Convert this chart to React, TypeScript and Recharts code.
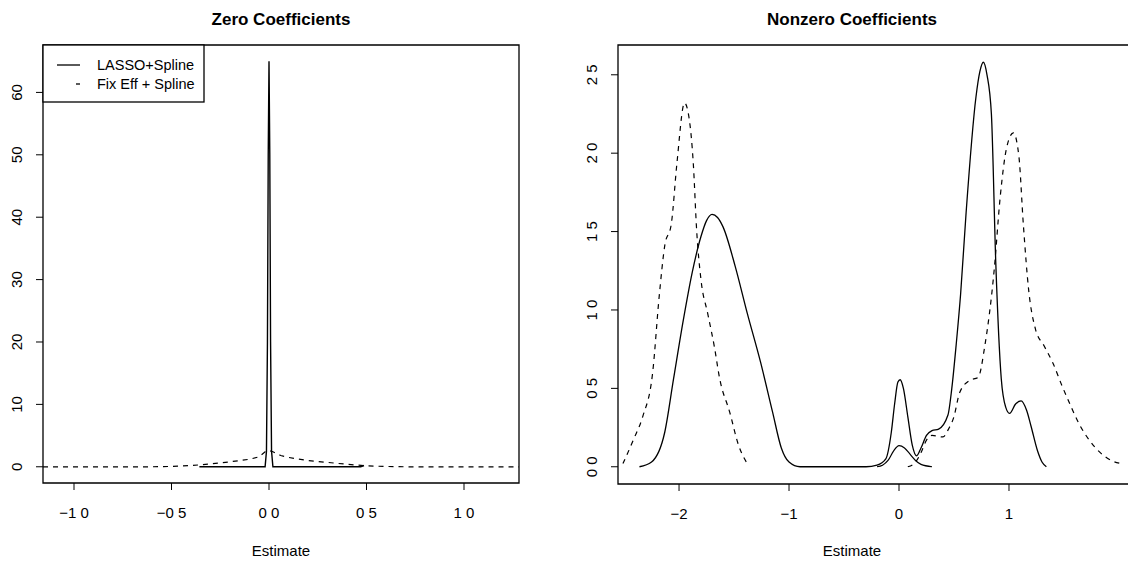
import React from "react";
import { LineChart, Line, XAxis, YAxis, ReferenceArea } from "recharts";

// ---- data (estimate, density) ----
const zeroLasso: [number, number][] = [
  [-0.357, 0], [-0.02, 0], [-0.013, 2.5], [-0.008, 20], [-0.004, 50], [0, 65],
  [0.004, 50], [0.008, 20], [0.013, 2.5], [0.02, 0], [0.47, 0], [0.487, 0.2],
];
const zeroFixEff: [number, number][] = [
  [-1.159, 0], [-0.6, 0], [-0.5, 0.05], [-0.4, 0.2], [-0.3, 0.45], [-0.2, 0.8],
  [-0.1, 1.2], [-0.05, 1.6], [-0.02, 2.4], [0, 2.6], [0.02, 2.4], [0.06, 1.8],
  [0.1, 1.5], [0.2, 1.0], [0.3, 0.7], [0.4, 0.4], [0.5, 0.15], [0.6, 0.05],
  [0.7, 0], [1.282, 0],
];

const nonzeroLasso: [number, number][] = [
  [-2.36, 0], [-2.25, 0.03], [-2.13, 0.22], [-2.05, 0.56], [-1.96, 0.94],
  [-1.88, 1.24], [-1.8, 1.47], [-1.75, 1.57], [-1.7, 1.61], [-1.65, 1.59],
  [-1.6, 1.53], [-1.49, 1.28], [-1.38, 0.98], [-1.26, 0.67], [-1.15, 0.35],
  [-1.07, 0.12], [-1.0, 0.03], [-0.9, 0], [-0.3, 0], [-0.2, 0.01],
  [-0.12, 0.05], [-0.07, 0.22], [-0.04, 0.4], [-0.01, 0.54], [0.01, 0.555],
  [0.04, 0.5], [0.08, 0.32], [0.12, 0.14], [0.16, 0.07], [0.2, 0.12],
  [0.25, 0.2], [0.3, 0.23], [0.36, 0.24], [0.445, 0.33], [0.48, 0.5],
  [0.52, 0.78], [0.56, 1.1], [0.61, 1.62], [0.7, 2.36], [0.735, 2.52],
  [0.767, 2.58], [0.8, 2.5], [0.84, 2.25], [0.88, 1.3], [0.93, 0.56],
  [0.97, 0.38], [1.005, 0.34], [1.06, 0.4], [1.11, 0.42], [1.16, 0.36],
  [1.2, 0.26], [1.26, 0.1], [1.3, 0.03], [1.34, 0],
];
const nonzeroBump: [number, number][] = [
  [-0.2, 0], [-0.15, 0.01], [-0.1, 0.04], [-0.05, 0.1], [0, 0.135],
  [0.05, 0.12], [0.1, 0.08], [0.15, 0.04], [0.2, 0.015], [0.3, 0],
];
const nonzeroFixEff: [number, number][] = [
  [-2.51, 0.02], [-2.41, 0.18], [-2.33, 0.32], [-2.24, 0.6], [-2.18, 1.09],
  [-2.13, 1.41], [-2.07, 1.55], [-2.02, 1.93], [-1.95, 2.32], [-1.91, 2.23],
  [-1.87, 1.93], [-1.84, 1.51], [-1.8, 1.19], [-1.74, 0.98], [-1.68, 0.77],
  [-1.63, 0.56], [-1.54, 0.35], [-1.46, 0.14], [-1.38, 0.02],
];
const nonzeroFixEffRight: [number, number][] = [
  [0.08, 0], [0.15, 0.03], [0.2, 0.09], [0.25, 0.17], [0.3, 0.2], [0.4, 0.19],
  [0.45, 0.24], [0.5, 0.32], [0.55, 0.47], [0.64, 0.55], [0.72, 0.57],
  [0.78, 0.77], [0.866, 1.26], [0.92, 1.72], [0.98, 2.04], [1.04, 2.13],
  [1.09, 1.98], [1.13, 1.55], [1.18, 1.12], [1.24, 0.88], [1.32, 0.77],
  [1.4, 0.66], [1.48, 0.52], [1.56, 0.39], [1.64, 0.27], [1.73, 0.17],
  [1.83, 0.09], [1.93, 0.04], [2.02, 0.02],
];

// ---- ticks ----
const zeroXTicks = [-1, -0.5, 0, 0.5, 1];
const zeroXLabels = ["\u22121 0", "\u22120 5", "0 0", "0 5", "1 0"];
const zeroYTicks = [0, 10, 20, 30, 40, 50, 60];
const zeroYLabels = ["0", "10", "20", "30", "40", "50", "60"];
const nonzeroXTicks = [-2, -1, 0, 1];
const nonzeroXLabels = ["\u22122", "\u22121", "0", "1"];
const nonzeroYTicks = [0, 0.5, 1, 1.5, 2, 2.5];
const nonzeroYLabels = ["0 0", "0 5", "1 0", "1 5", "2 0", "2 5"];

const toPts = (arr: [number, number][]) => arr.map(([x, y]) => ({ x, y }));

const FONT = '"Liberation Sans", Arial, Helvetica, sans-serif';

const makeXTick = (ticks: number[], labels: string[]) => (props: any) => {
  const { x, y, payload } = props;
  const i = ticks.indexOf(payload.value);
  return (
    <text x={x} y={y + 28} textAnchor="middle" fontSize={15} fill="#000" fontFamily={FONT}>
      {labels[i]}
    </text>
  );
};

const makeYTick = (ticks: number[], labels: string[]) => (props: any) => {
  const { x, y, payload } = props;
  const i = ticks.indexOf(payload.value);
  const tx = x - 14;
  return (
    <text
      x={tx}
      y={y}
      transform={`rotate(-90 ${tx} ${y})`}
      textAnchor="middle"
      fontSize={15}
      fill="#000"
      fontFamily={FONT}
    >
      {labels[i]}
    </text>
  );
};

const textStyle = (cx: number, cy: number, size: number, bold: boolean): React.CSSProperties => ({
  position: "absolute",
  left: cx - 150,
  top: cy - 10,
  width: 300,
  lineHeight: "20px",
  textAlign: "center",
  fontSize: size,
  fontWeight: bold ? "bold" : "normal",
  fontFamily: FONT,
  color: "#000",
});

export default function App() {
  const zx: [number, number] = [-1.159, 1.282];
  const zy: [number, number] = [-2.6, 67.6];
  const nx: [number, number] = [-2.555, 2.273];
  const ny: [number, number] = [-0.11, 2.69];

  return (
    <div
      style={{
        position: "absolute",
        left: 0,
        top: 0,
        width: 1128,
        height: 561,
        overflow: "hidden",
        background: "#fff",
      }}
    >
      {/* left panel */}
      <div style={{ position: "absolute", left: 0, top: 0 }}>
        <LineChart width={564} height={561} margin={{ top: 45, right: 45, bottom: 18, left: 0 }}>
          <XAxis
            type="number"
            dataKey="x"
            domain={zx}
            allowDataOverflow
            ticks={zeroXTicks}
            interval={0}
            height={60}
            axisLine={false}
            tickSize={7}
            tickMargin={0}
            tickLine={{ stroke: "#000" }}
            tick={makeXTick(zeroXTicks, zeroXLabels)}
          />
          <YAxis
            type="number"
            dataKey="y"
            domain={zy}
            allowDataOverflow
            ticks={zeroYTicks}
            interval={0}
            width={43}
            axisLine={false}
            tickSize={7}
            tickMargin={0}
            tickLine={{ stroke: "#000" }}
            tick={makeYTick(zeroYTicks, zeroYLabels)}
          />
          <ReferenceArea x1={zx[0]} x2={zx[1]} y1={zy[0]} y2={zy[1]} fill="none" stroke="#000" strokeWidth={1.3} ifOverflow="visible" />
          <Line data={toPts(zeroFixEff)} dataKey="y" type="linear" stroke="#000" strokeWidth={1.2} strokeDasharray="5 5" dot={false} isAnimationActive={false} />
          <Line data={toPts(zeroLasso)} dataKey="y" type="linear" stroke="#000" strokeWidth={1.4} dot={false} isAnimationActive={false} />
        </LineChart>
        {/* legend */}
        <svg style={{ position: "absolute", left: 0, top: 0 }} width={564} height={120}>
          <rect x={43} y={45} width={161} height={57} fill="#fff" stroke="#000" strokeWidth={1.3} />
          <line x1={57} y1={65} x2={80} y2={65} stroke="#000" strokeWidth={1.3} />
          <line x1={76} y1={84} x2={80} y2={84} stroke="#000" strokeWidth={1.3} />
          <text x={97} y={70} fontSize={14.5} fontFamily={FONT} fill="#000">LASSO+Spline</text>
          <text x={97} y={89} fontSize={14.5} fontFamily={FONT} fill="#000">Fix Eff + Spline</text>
        </svg>
        <div style={textStyle(281, 20, 17, true)}>Zero Coefficients</div>
        <div style={textStyle(281, 551, 15, false)}>Estimate</div>
      </div>

      {/* right panel */}
      <div style={{ position: "absolute", left: 559, top: 0 }}>
        <LineChart width={600} height={561} margin={{ top: 45, right: 10, bottom: 17, left: 0 }}>
          <XAxis
            type="number"
            dataKey="x"
            domain={nx}
            allowDataOverflow
            ticks={nonzeroXTicks}
            interval={0}
            height={60}
            axisLine={false}
            tickSize={7}
            tickMargin={0}
            tickLine={{ stroke: "#000" }}
            tick={makeXTick(nonzeroXTicks, nonzeroXLabels)}
          />
          <YAxis
            type="number"
            dataKey="y"
            domain={ny}
            allowDataOverflow
            ticks={nonzeroYTicks}
            interval={0}
            width={59}
            axisLine={false}
            tickSize={7}
            tickMargin={0}
            tickLine={{ stroke: "#000" }}
            tick={makeYTick(nonzeroYTicks, nonzeroYLabels)}
          />
          <ReferenceArea x1={nx[0]} x2={nx[1]} y1={ny[0]} y2={ny[1]} fill="none" stroke="#000" strokeWidth={1.3} ifOverflow="visible" />
          <Line data={toPts(nonzeroFixEff)} dataKey="y" type="monotone" stroke="#000" strokeWidth={1.2} strokeDasharray="5 5" dot={false} isAnimationActive={false} />
          <Line data={toPts(nonzeroFixEffRight)} dataKey="y" type="monotone" stroke="#000" strokeWidth={1.2} strokeDasharray="5 5" dot={false} isAnimationActive={false} />
          <Line data={toPts(nonzeroBump)} dataKey="y" type="monotone" stroke="#000" strokeWidth={1.2} dot={false} isAnimationActive={false} />
          <Line data={toPts(nonzeroLasso)} dataKey="y" type="monotone" stroke="#000" strokeWidth={1.3} dot={false} isAnimationActive={false} />
        </LineChart>
        <div style={textStyle(293, 20, 17, true)}>Nonzero Coefficients</div>
        <div style={textStyle(293, 551, 15, false)}>Estimate</div>
      </div>
    </div>
  );
}
